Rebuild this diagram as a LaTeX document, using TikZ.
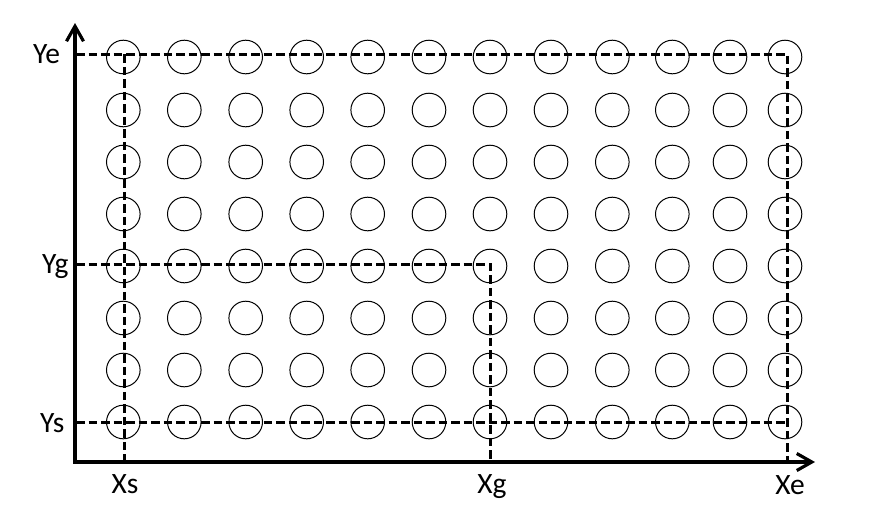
\documentclass[tikz,border=0pt]{standalone}
\usepackage{fontspec}
\setmainfont{Carlito}
\usetikzlibrary{arrows.meta}
\begin{document}
\begin{tikzpicture}[x=1pt,y=-1pt,
  dot/.style={draw=black,line width=1pt},
  guide/.style={line width=3pt,dash pattern=on 8.5pt off 4pt},
  axis/.style={line width=3.2pt,{Straight Barb[length=15pt,width=17pt,line width=3.2pt]}-{Straight Barb[length=15pt,width=17pt,line width=3.2pt]}},
  lbl/.style={font=\fontsize{29.5}{29.5}\selectfont,inner sep=0pt}]
\useasboundingbox (0,0) rectangle (889,515);
% circles
\foreach \cx in {123.3,184.3,245.7,306.7,367.7,429,490,551,612.3,672.3,730,785}{
  \foreach \cy in {57,110,162,214,266,318,370,422}{
    \draw[dot] (\cx,\cy) circle (16.8);
  }
}
% named coordinates
\coordinate (O) at (75,462);
\coordinate (ytip) at (75,23);
\coordinate (xtip) at (815,462);
\coordinate (yeL) at (76,54.3);
\coordinate (yeR) at (787,54.3);
\coordinate (xeB) at (787,462);
\coordinate (xsT) at (124,54.3);
\coordinate (xsB) at (124,462);
\coordinate (ygL) at (76,264.3);
\coordinate (ygR) at (490,264.3);
\coordinate (xgB) at (490,462);
\coordinate (ysL) at (76,422.7);
\coordinate (ysR) at (787,422.7);
% dashed guides
\draw[guide] (yeL) -- (yeR) -- (xeB);
\draw[guide] (xsT) -- (xsB);
\draw[guide] (ygL) -- (ygR) -- (xgB);
\draw[guide] (ysL) -- (ysR);
% axes
\draw[axis] (ytip) -- (O) -- (xtip);
% labels
\node[lbl,anchor=base west] (Ye) at (33,63.5) {Ye};
\node[lbl,anchor=base west] (Yg) at (42,273.5) {Yg};
\node[lbl,anchor=base west] (Ys) at (40,432.5) {Ys};
\node[lbl,anchor=base] (Xs) at (125,493.5) {Xs};
\node[lbl,anchor=base] (Xg) at (492,493.5) {Xg};
\node[lbl,anchor=base] (Xe) at (790,494.5) {Xe};
\end{tikzpicture}
\end{document}
